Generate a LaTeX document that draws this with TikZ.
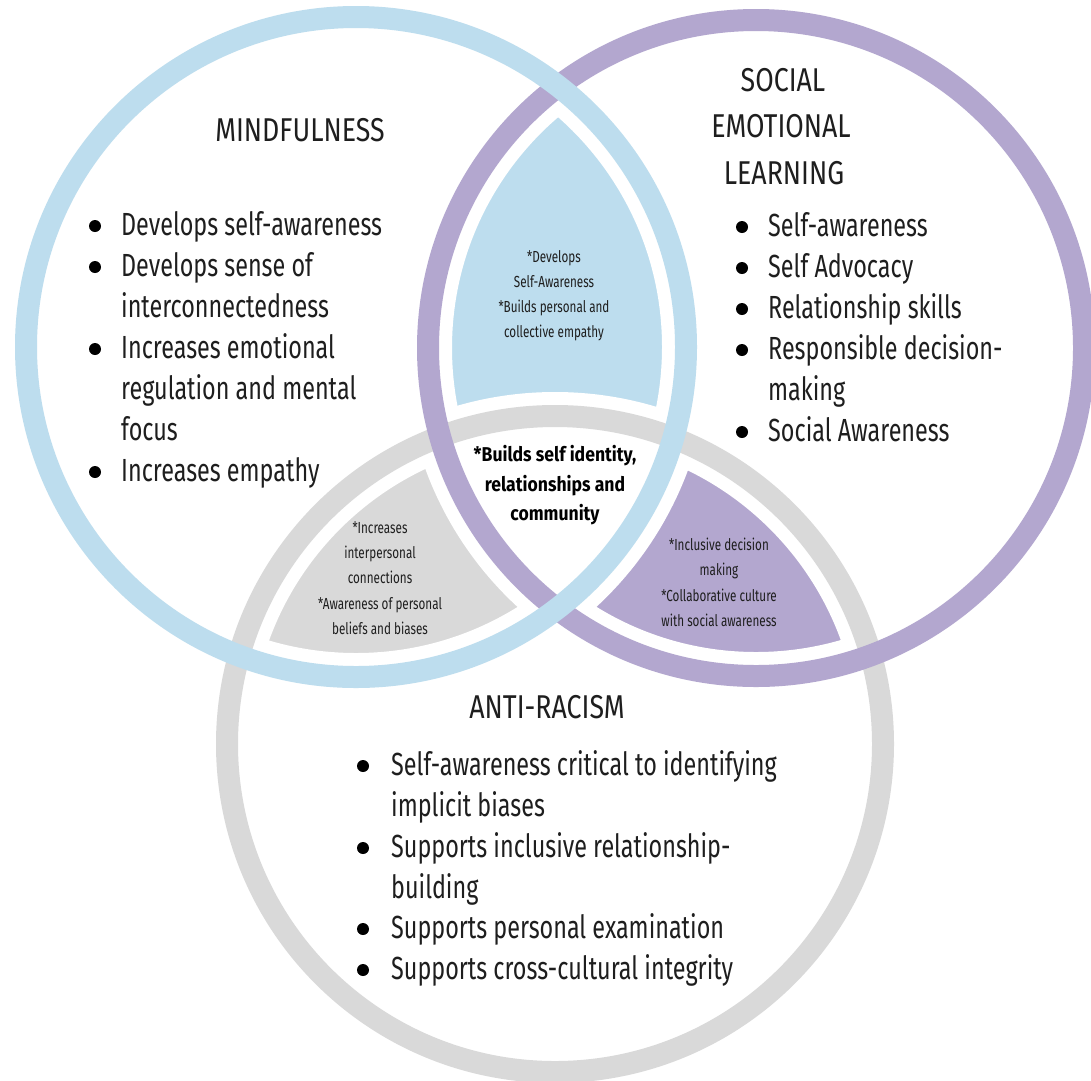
\documentclass[tikz,border=0pt]{standalone}
\usepackage{fontspec}
\setmainfont[FakeStretch=0.73]{Fira Sans}
\newfontfamily\titlefont[FakeStretch=0.81]{Fira Sans}
\newfontfamily\corefont[FakeStretch=0.88]{Fira Sans}
\definecolor{cblue}{HTML}{BDDDEE}
\definecolor{cpurple}{HTML}{B3A7CF}
\definecolor{cgray}{HTML}{D9D9D9}
\definecolor{ctext}{HTML}{1E1E1E}
\begin{document}
\begin{tikzpicture}[x=1pt,y=-1pt,
  ring/.style={line width=22pt},
  gapring/.style={line width=48pt, draw=white},
  title/.style={font=\titlefont\fontsize{33}{33}\selectfont, text=ctext, inner sep=0pt, anchor=base},
  body/.style={font=\fontsize{32}{32}\selectfont, text=ctext, inner sep=0pt, anchor=base west},
  lens/.style={font=\fontsize{16}{16}\selectfont, text=ctext, inner sep=0pt, anchor=base},
  core/.style={font=\corefont\bfseries\fontsize{20}{20}\selectfont, text=black, inner sep=0pt, anchor=base},
  dot/.style={fill=black}
]
\useasboundingbox (0,0) rectangle (1091,1080);
\fill[white] (0,0) rectangle (1091,1080);
\coordinate (B) at (356,347);
\coordinate (P) at (756,348);
\coordinate (G) at (555,744);
\def\rB{330pt}
\def\rP{328pt}
\def\rG{328pt}
% lens fills
\begin{scope}
  \clip (B) circle[radius=\rB];
  \clip (P) circle[radius=\rP];
  \fill[cblue] (0,0) rectangle (1091,1080);
  \fill[white] (G) circle[radius=\rG];
\end{scope}
\begin{scope}
  \clip (B) circle[radius=\rB];
  \clip (G) circle[radius=\rG];
  \fill[cgray] (0,0) rectangle (1091,1080);
  \fill[white] (P) circle[radius=\rP];
\end{scope}
\begin{scope}
  \clip (P) circle[radius=\rP];
  \clip (G) circle[radius=\rG];
  \fill[cpurple] (0,0) rectangle (1091,1080);
  \fill[white] (B) circle[radius=\rB];
\end{scope}
% white gaps
\draw[gapring] (B) circle[radius=\rB];
\draw[gapring] (P) circle[radius=\rP];
\draw[gapring] (G) circle[radius=\rG];
% rings
\draw[ring, cgray] (G) circle[radius=\rG];
\draw[ring, cpurple] (P) circle[radius=\rP];
\draw[ring, cblue] (B) circle[radius=\rB];

% Mindfulness
\node[title] (mt) at (300,141) {MINDFULNESS};
\foreach \t/\y [count=\i] in {Develops self-awareness/235, Develops sense of/276, interconnectedness/317, Increases emotional/358, regulation and mental/399, focus/440, Increases empathy/481}
  \node[body] (m\i) at (121,\y) {\t};
\foreach \y in {235,276,358,481}
  \fill[dot] (95,\y-9) circle[radius=6pt];

% SEL
\node[title] (s1) at (783,91) {SOCIAL};
\node[title] (s2) at (781,137) {EMOTIONAL};
\node[title] (s3) at (784,184) {LEARNING};
\foreach \t/\y [count=\i] in {Self-awareness/236, Self Advocacy/277, Relationship skills/318, Responsible decision-/359, making/400, Social Awareness/441}
  \node[body] (e\i) at (768,\y) {\t};
\foreach \y in {236,277,318,359,441}
  \fill[dot] (742,\y-9) circle[radius=6pt];

% Anti-racism
\node[title] (at) at (547,718) {ANTI-RACISM};
\foreach \t/\y [count=\i] in {Self-awareness critical to identifying/775, implicit biases/816, Supports inclusive relationship-/857, building/898, Supports personal examination/938, Supports cross-cultural integrity/979}
  \node[body] (a\i) at (391,\y) {\t};
\foreach \y in {775,857,938,979}
  \fill[dot] (363,\y-9) circle[radius=6pt];

% lens texts
\foreach \t/\y [count=\i] in {*Develops/262, Self-Awareness/287, *Builds personal and/312, collective empathy/337}
  \node[lens] (bp\i) at (554,\y) {\t};
\foreach \t/\y [count=\i] in {*Increases/533, interpersonal/558, connections/583, *Awareness of personal/609, beliefs and biases/634}
  \node[lens] (bg\i) at (380,\y) {\t};
\foreach \t/\y [count=\i] in {*Inclusive decision/550, making/575, *Collaborative culture/601, with social awareness/626}
  \node[lens] (pg\i) at (719,\y) {\t};
\foreach \t/\y [count=\i] in {*Builds self identity{,}/461, relationships and/491, community/520}
  \node[core] (c\i) at (555,\y) {\t};
\end{tikzpicture}
\end{document}
